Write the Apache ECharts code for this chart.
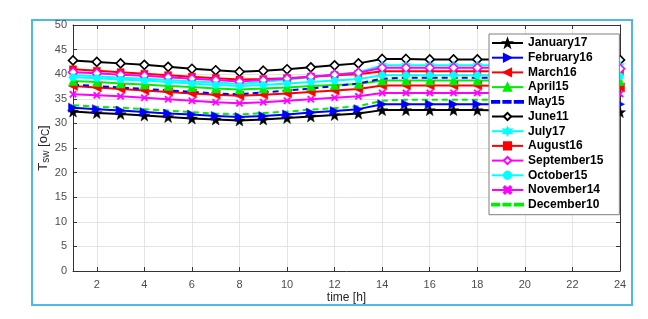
<!DOCTYPE html>
<html><head><meta charset="utf-8">
<script src="https://cdn.jsdelivr.net/npm/echarts@6/dist/echarts.min.js"></script>
<style>html,body{margin:0;padding:0;background:#fff}#c{width:648px;height:319px}</style>
</head><body><div id="c"></div>
<script>
const hours = [1,2,3,4,5,6,7,8,9,10,11,12,13,14,15,16,17,18,19,20,21,22,23,24];
const xTicks = [2,4,6,8,10,12,14,16,18,20,22,24];
const jan17 = [32.4,32.1,31.9,31.6,31.3,31.0,30.8,30.6,30.8,31.1,31.4,31.7,32.0,32.7,32.7,32.7,32.7,32.7,32.6,32.6,32.5,32.5,32.4,32.3];
const feb16 = [33.2,32.9,32.6,32.3,32.0,31.8,31.5,31.3,31.5,31.8,32.2,32.5,32.9,33.9,33.9,33.9,33.9,33.9,33.9,33.9,33.9,33.9,33.9,33.9];
const mar16 = [37.6,37.3,37.0,36.7,36.4,36.1,35.8,35.6,35.8,36.1,36.4,36.7,37.0,37.7,37.7,37.7,37.7,37.7,37.6,37.5,37.5,37.4,37.4,37.3];
const apr15 = [38.6,38.4,38.1,37.9,37.6,37.4,37.1,36.9,37.1,37.3,37.6,37.8,38.0,38.7,38.7,38.7,38.7,38.7,38.7,38.7,38.6,38.6,38.6,38.6];
const may15 = [37.9,37.6,37.3,37.0,36.7,36.4,36.1,35.9,36.3,36.7,37.1,37.6,38.1,39.1,39.3,39.3,39.3,39.3,39.3,39.3,39.3,39.3,39.3,39.3];
const jun11 = [42.8,42.5,42.2,41.9,41.5,41.1,40.8,40.5,40.7,41.0,41.4,41.8,42.2,43.1,43.1,43.0,43.0,43.0,43.0,43.0,42.9,42.9,42.9,42.9];
const jul17 = [39.8,39.6,39.3,39.1,38.8,38.5,38.3,38.0,38.4,38.9,39.4,39.9,40.4,41.8,41.8,41.8,41.8,41.8,41.8,41.8,41.8,41.7,41.7,41.7];
const aug16 = [41.0,40.7,40.4,40.1,39.8,39.5,39.2,38.9,39.0,39.2,39.5,39.8,40.0,40.6,40.6,40.6,40.6,40.6,40.6,40.6,40.6,40.5,40.5,40.5];
const sep15 = [40.4,40.2,39.9,39.7,39.4,39.1,38.8,38.5,38.8,39.1,39.5,39.9,40.3,41.3,41.3,41.3,41.3,41.3,41.3,41.2,41.2,41.2,41.1,41.1];
const oct15 = [39.4,39.2,38.9,38.7,38.4,38.1,37.8,37.6,37.8,38.1,38.4,38.7,39.0,39.8,39.8,39.8,39.8,39.8,39.8,39.7,39.7,39.7,39.6,39.6];
const nov14 = [35.9,35.7,35.5,35.2,34.9,34.6,34.3,34.1,34.3,34.6,34.9,35.2,35.5,36.2,36.2,36.2,36.2,36.2,36.2,36.1,36.1,36.1,36.0,36.0];
const dec10 = [33.7,33.4,33.2,32.9,32.6,32.3,32.0,31.8,32.1,32.4,32.8,33.1,33.5,34.6,34.8,34.8,34.8,34.8,34.8,34.8,34.8,34.8,34.8,34.8];

const STAR5 = 'path://M0,-10 L2.35,-3.24 L9.51,-3.09 L3.8,1.24 L5.88,8.09 L0,4 L-5.88,8.09 L-3.8,1.24 L-9.51,-3.09 L-2.35,-3.24 Z';
const STAR6 = 'path://M0,-10 L2.5,-4.33 L8.66,-5 L5,0 L8.66,5 L2.5,4.33 L0,10 L-2.5,4.33 L-8.66,5 L-5,0 L-8.66,-5 L-2.5,-4.33 Z';
const XMARK = 'path://M-10,-7 L-7,-10 L0,-3 L7,-10 L10,-7 L3,0 L10,7 L7,10 L0,3 L-7,10 L-10,7 L-3,0 Z';
const DASHICON = 'path://M0,0 h7 v1.6 h-7 Z M11,0 h7 v1.6 h-7 Z M22,0 h8 v1.6 h-8 Z';

const pair = arr => hours.map((h,i)=>[h,arr[i]]);
function mk(name, arr, color, symbol, size, opts) {
  opts = opts || {};
  return {
    name, type:'line', data: pair(arr), color,
    symbol, symbolSize: size, showAllSymbol: true,
    lineStyle: {color, width: 2, type: opts.dash ? [6,4] : 'solid'},
    itemStyle: opts.hollow ? {color:'#fff', borderColor: color, borderWidth: 1.6} : {color, borderColor: color, borderWidth: 0.5},
    symbolRotate: opts.rot || 0,
    z: 2
  };
}
const series = [
  mk('January17', jan17, '#000000', STAR5, 11),
  mk('February16', feb16, '#0000ff', 'triangle', 9, {rot:-90}),
  mk('March16', mar16, '#ff0000', 'triangle', 9, {rot:90}),
  mk('April15', apr15, '#00ee00', 'triangle', 9),
  mk('May15', may15, '#0000ff', 'none', 0, {dash:true}),
  mk('June11', jun11, '#000000', 'diamond', 9, {hollow:true}),
  mk('July17', jul17, '#00ffff', STAR6, 9),
  mk('August16', aug16, '#ff0000', 'rect', 7),
  mk('September15', sep15, '#ff00ff', 'diamond', 9, {hollow:true}),
  mk('October15', oct15, '#00ffff', 'circle', 7),
  mk('November14', nov14, '#ff00ff', XMARK, 7),
  mk('December10', dec10, '#00ee00', 'none', 0, {dash:true})
];
const legendData = series.map(s => (s.symbol === 'none') ? {name: s.name, icon: DASHICON} : s.name);

const axisCol = '#333333';
const labCol = '#4d4d4d';
const font = 'Liberation Sans, Arial, sans-serif';
const chart = echarts.init(document.getElementById('c'), null, {renderer:'canvas'});
chart.setOption({
  animation: false,
  backgroundColor: '#ffffff',
  graphic: [{type:'rect', shape:{x:32, y:20, width:600, height:285}, style:{fill:'none', stroke:'#4db8ea', lineWidth:2}, z:0}],
  grid: {left:73, right:28, top:25, bottom:48},
  legend: {
    orient:'vertical', left:489, top:34,
    itemWidth:31, itemHeight:9, itemGap:2.7,
    padding:[3,16,4,2],
    backgroundColor:'#ffffff', borderColor:'#7f7f7f', borderWidth:1,
    textStyle:{fontFamily:font, fontWeight:'bold', fontSize:12, color:'#000', lineHeight:12},
    data: legendData
  },
  xAxis: [{
    type:'value', min:1, max:24, position:'bottom',
    name:'time [h]', nameLocation:'middle', nameGap:21, nameMoveOverlap:false,
    nameTextStyle:{fontFamily:font, fontSize:12, color:'#262626'},
    axisLine:{show:true, onZero:false, lineStyle:{color:axisCol, width:1}},
    axisTick:{show:true, inside:true, length:4, customValues:xTicks, lineStyle:{color:axisCol}},
    axisLabel:{customValues:xTicks, fontFamily:font, fontSize:11, color:labCol, margin:8},
    splitLine:{show:true, lineStyle:{color:'#e3e3e3', width:1}}
  },{
    type:'value', min:1, max:24, position:'top',
    axisLine:{show:true, onZero:false, lineStyle:{color:axisCol, width:1}},
    axisTick:{show:true, inside:true, length:4, customValues:xTicks, lineStyle:{color:axisCol}},
    axisLabel:{show:false, customValues:xTicks},
    splitLine:{show:false}
  }],
  yAxis: [{
    type:'value', min:0, max:50, interval:5, position:'left',
    name:'{a|T}{b|sw}{a| [o}{b|C}{a|]}', nameLocation:'middle', nameGap:22, nameRotate:90, nameMoveOverlap:false,
    nameTextStyle:{rich:{a:{fontFamily:font, fontSize:13, color:'#262626'}, b:{fontFamily:font, fontSize:10, color:'#262626', verticalAlign:'bottom', padding:[5,0,0,0]}}},
    axisLine:{show:true, lineStyle:{color:axisCol, width:1}},
    axisTick:{show:true, inside:true, length:4, lineStyle:{color:axisCol}},
    axisLabel:{fontFamily:font, fontSize:11, color:labCol, margin:6},
    splitLine:{show:true, lineStyle:{color:'#e3e3e3', width:1}}
  },{
    type:'value', min:0, max:50, interval:5, position:'right',
    axisLine:{show:true, lineStyle:{color:axisCol, width:1}},
    axisTick:{show:true, inside:true, length:4, lineStyle:{color:axisCol}},
    axisLabel:{show:false},
    splitLine:{show:false}
  }],
  series: series
});
</script>
</body></html>
